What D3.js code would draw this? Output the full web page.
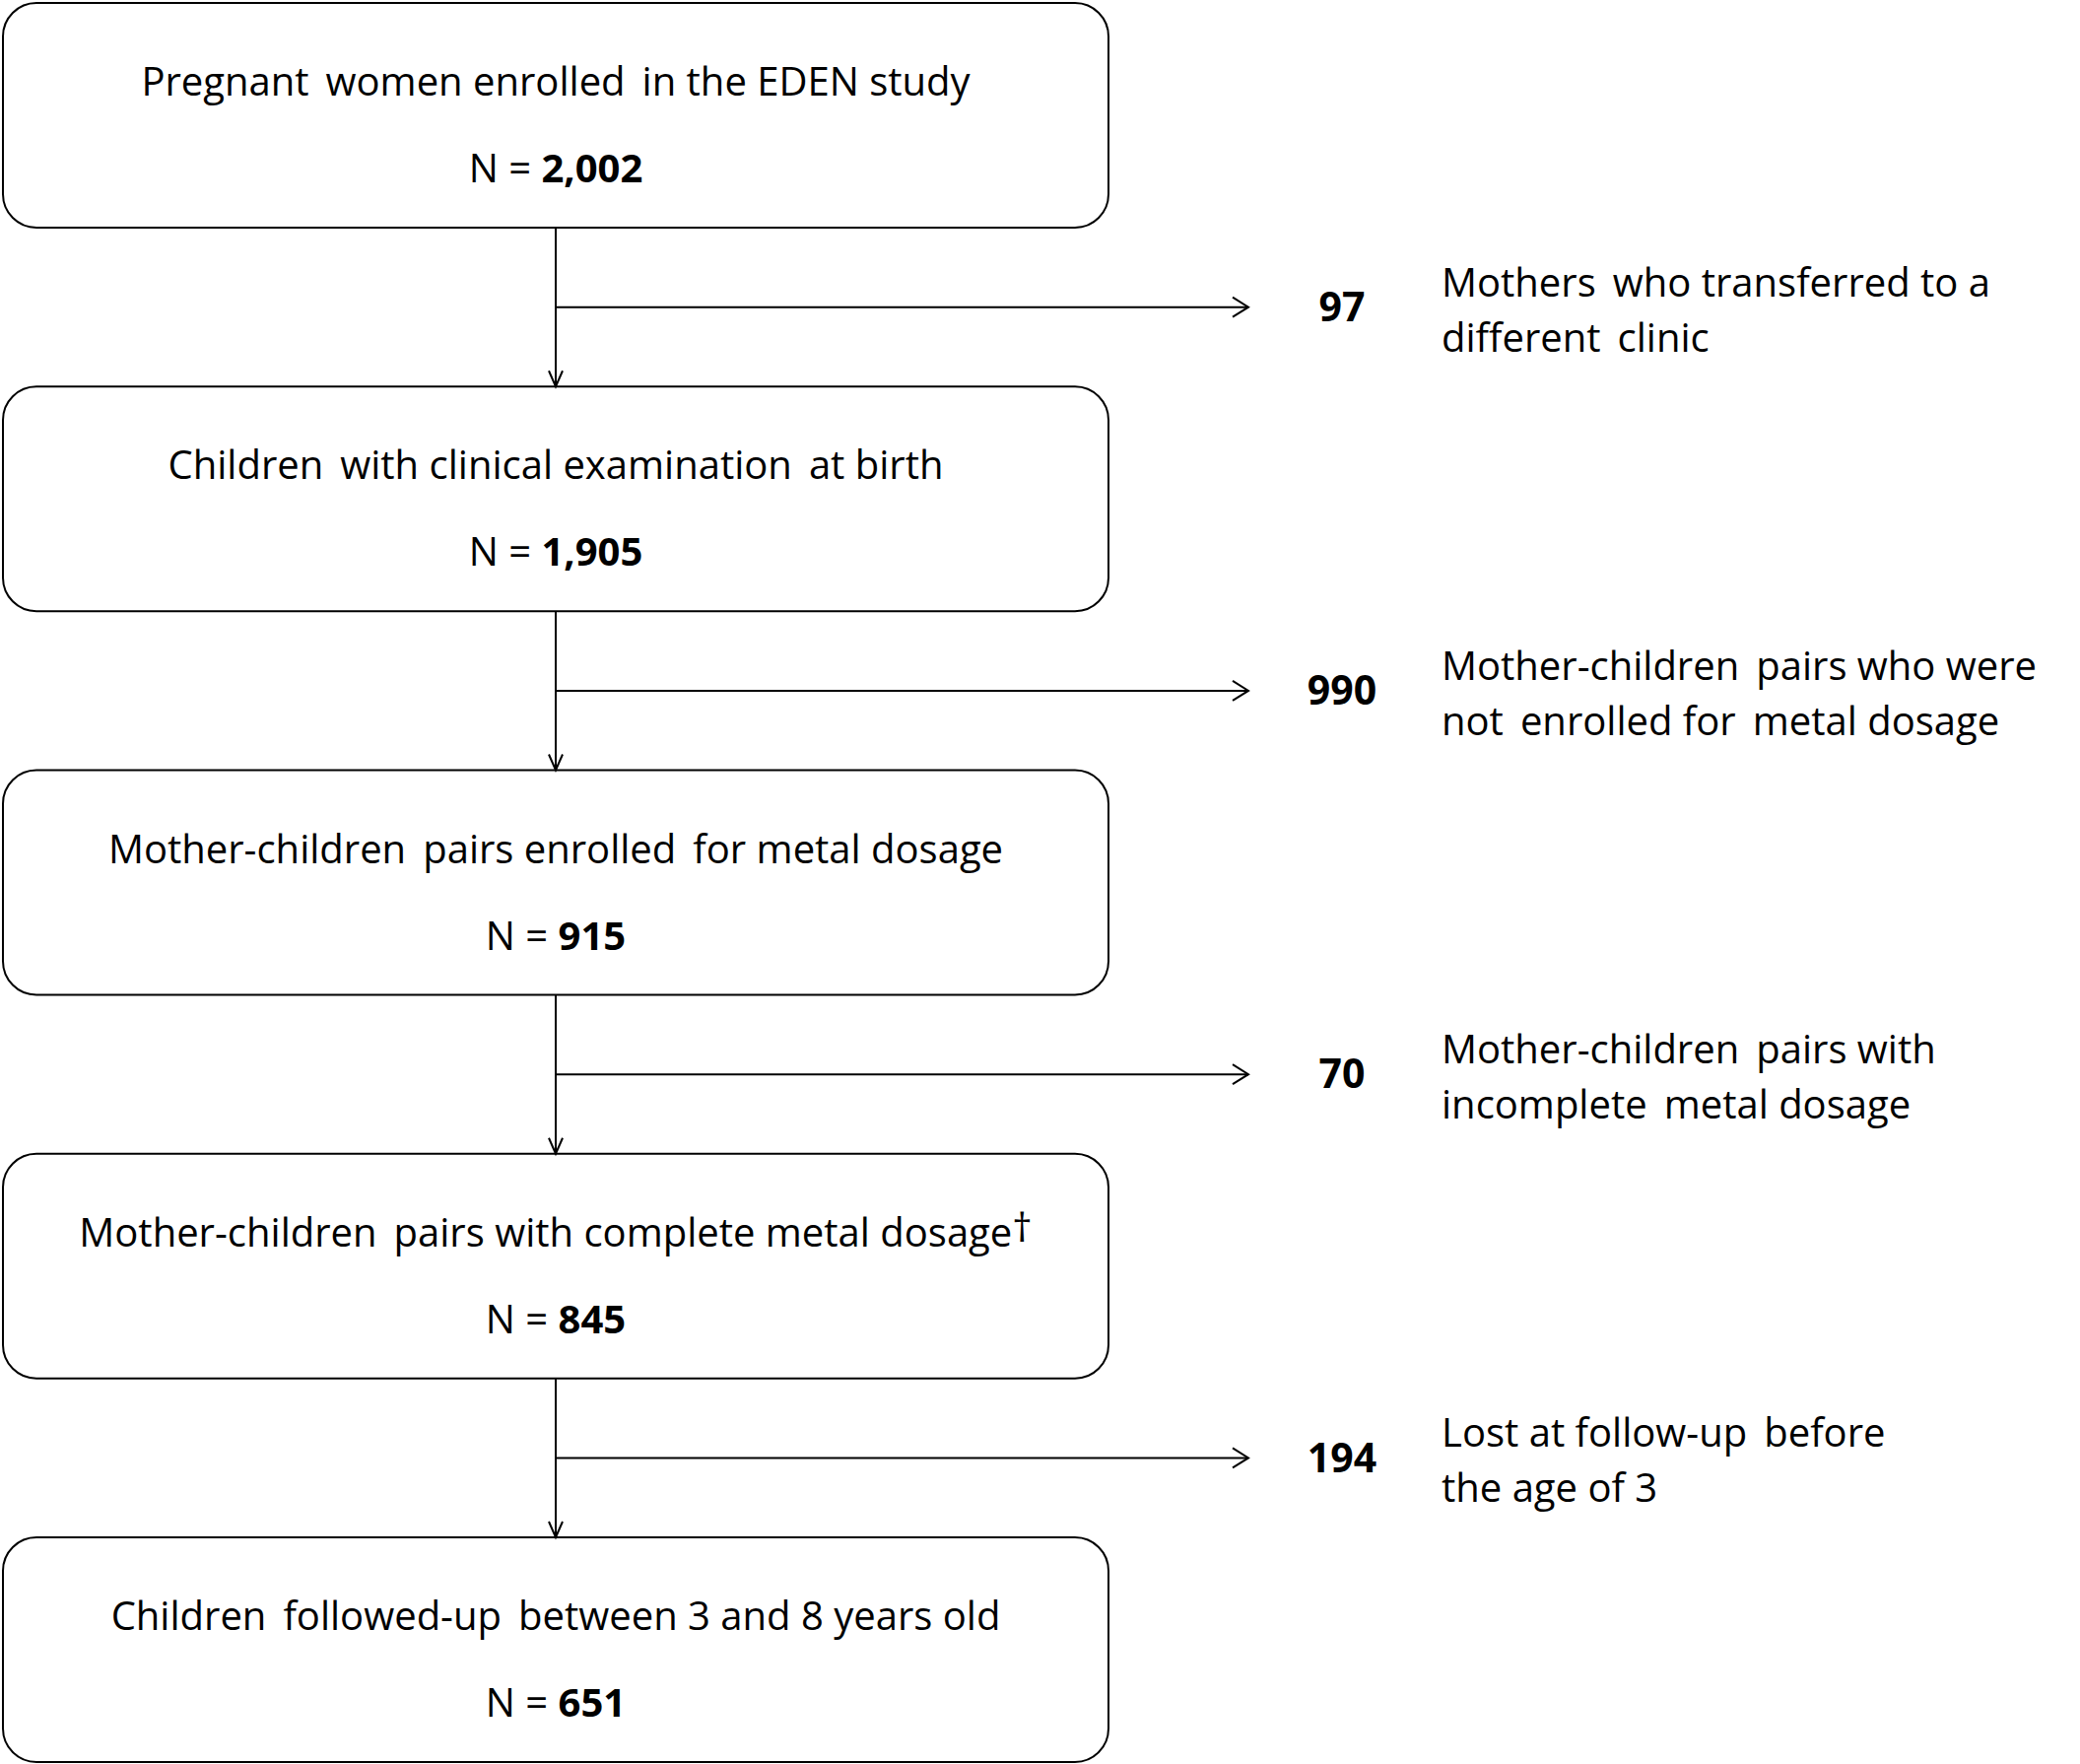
<!DOCTYPE html>
<html>
<head>
<meta charset="utf-8">
<script src="https://cdn.jsdelivr.net/npm/d3@7"></script>
<style>
  body { margin: 0; background: #fff; }
  svg { display: block; }
  text { font-family: "Open Sans", sans-serif; fill: #000; }
</style>
</head>
<body>
<svg width="2111" height="1790"></svg>
<script>
// flow stages (boxes)
var stageLabels = [
  "Pregnant \u2009women enrolled \u2009in the EDEN study",
  "Children \u2009with clinical examination \u2009at birth",
  "Mother-children \u2009pairs enrolled \u2009for metal dosage",
  "Mother-children \u2009pairs with complete metal dosage",
  "Children \u2009followed-up \u2009between 3 and 8 years old"
];
var stageCounts = ["2,002", "1,905", "915", "845", "651"];
var stageMarks = ["", "", "", "\u2020", ""];

// excluded at each step
var exclusionCounts = ["97", "990", "70", "194"];
var exclusionLine1 = [
  "Mothers \u2009who transferred to a",
  "Mother-children \u2009pairs who were",
  "Mother-children \u2009pairs with",
  "Lost at follow-up \u2009before"
];
var exclusionLine2 = [
  "different \u2009clinic",
  "not \u2009enrolled for \u2009metal dosage",
  "incomplete \u2009metal dosage",
  "the age of 3"
];

window.onload = () => {
  var svg = d3.select("svg");

  var boxH = 228, boxX0 = 3, boxX1 = 1125;
  var midX = 564;
  var fs = 40;

  // box tops
  var y = d3.scalePoint()
    .domain(d3.range(stageLabels.length))
    .range([3, 1560]);

  var stages = stageLabels.map(function(d, i) {
    return {label: d, n: stageCounts[i], mark: stageMarks[i], i: i};
  });
  var exclusions = exclusionCounts.map(function(d, i) {
    return {n: d, l1: exclusionLine1[i], l2: exclusionLine2[i], i: i};
  });

  //###############################################
  // boxes
  //###############################################
  var box = svg.append("g").selectAll("g")
    .data(stages)
    .enter().append("g")
      .attr("transform", function(d) { return "translate(0," + y(d.i) + ")"; });

  box.append("rect")
    .attr("x", boxX0)
    .attr("y", 0)
    .attr("width", boxX1 - boxX0)
    .attr("height", boxH)
    .attr("rx", 34)
    .attr("fill", "#fff")
    .attr("stroke", "#000")
    .attr("stroke-width", 2);

  var t1 = box.append("text")
    .attr("x", midX)
    .attr("y", 80)
    .attr("dy", "0.35em")
    .attr("text-anchor", "middle")
    .attr("font-size", fs)
    .style("white-space", "pre")
    .text(function(d) { return d.label; });
  t1.append("tspan")
    .attr("dy", "-0.12em")
    .text(function(d) { return d.mark; });

  var t2 = box.append("text")
    .attr("x", midX)
    .attr("y", 168)
    .attr("dy", "0.35em")
    .attr("text-anchor", "middle")
    .attr("font-size", fs);
  t2.append("tspan").text("N = ");
  t2.append("tspan")
    .attr("font-weight", "bold")
    .text(function(d) { return d.n; });

  //###############################################
  // connectors
  //###############################################
  var link = svg.append("g")
    .attr("stroke", "#000")
    .attr("stroke-width", 2)
    .attr("fill", "none");

  // vertical arrows between boxes
  d3.range(stageLabels.length - 1).forEach(function(i) {
    var y0 = y(i) + boxH, y1 = y(i + 1);
    link.append("line")
      .attr("x1", midX).attr("y1", y0)
      .attr("x2", midX).attr("y2", y1);
    link.append("path")
      .attr("d", "M" + (midX - 7) + "," + (y1 - 16) + "L" + midX + "," + y1 + "L" + (midX + 7) + "," + (y1 - 16));
  });

  // branch y = middle of the gap
  var by = function(i) { return y(i) + boxH + (y(i + 1) - y(i) - boxH) * 0.5; };
  var arrowX = 1267;

  exclusions.forEach(function(d) {
    var yy = by(d.i);
    link.append("line")
      .attr("x1", midX).attr("y1", yy)
      .attr("x2", arrowX).attr("y2", yy);
    link.append("path")
      .attr("d", "M" + (arrowX - 16) + "," + (yy - 10) + "L" + arrowX + "," + yy + "L" + (arrowX - 16) + "," + (yy + 10));
  });

  var ex = svg.append("g").selectAll("g")
    .data(exclusions)
    .enter().append("g")
      .attr("transform", function(d) { return "translate(0," + by(d.i) + ")"; });

  ex.append("text")
    .attr("x", 1362)
    .attr("y", 0)
    .attr("dy", "0.35em")
    .attr("text-anchor", "middle")
    .attr("font-size", 41)
    .attr("font-weight", "bold")
    .text(function(d) { return d.n; });

  ex.append("text")
    .attr("x", 1463)
    .attr("y", -25)
    .attr("dy", "0.35em")
    .attr("font-size", fs)
    .style("white-space", "pre")
    .text(function(d) { return d.l1; });

  ex.append("text")
    .attr("x", 1463)
    .attr("y", 31)
    .attr("dy", "0.35em")
    .attr("font-size", fs)
    .style("white-space", "pre")
    .text(function(d) { return d.l2; });
}
</script>
</body>
</html>
